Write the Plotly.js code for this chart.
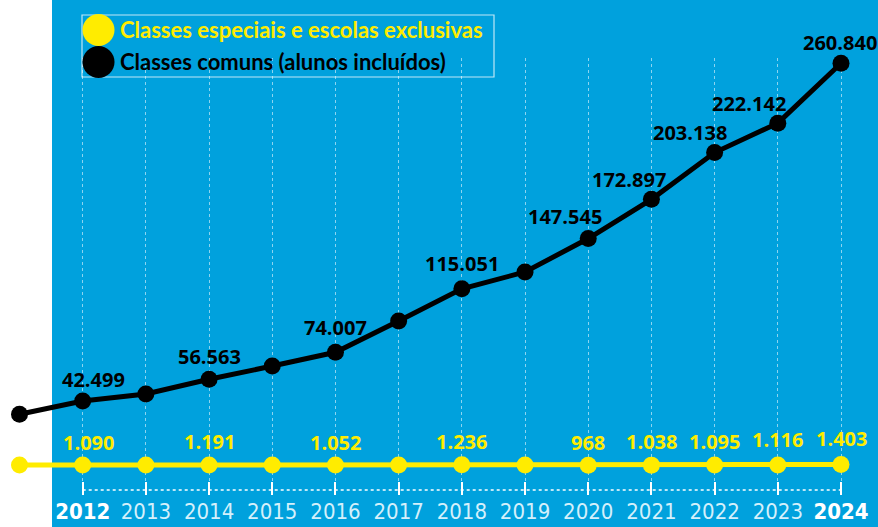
<!DOCTYPE html>
<html>
<head>
<meta charset="utf-8">
<script src="https://cdn.plot.ly/plotly-3.0.1.min.js"></script>
<style>
  html, body { margin: 0; padding: 0; background: #ffffff; }
  #chart { width: 878px; height: 527px; }
</style>
</head>
<body>
<div id="chart"></div>
<script>
// ---- data ----
const years = [2011, 2012, 2013, 2014, 2015, 2016, 2017, 2018, 2019, 2020, 2021, 2022, 2023, 2024];
const comuns = [33900, 42499, 47000, 56563, 65100, 74007, 94200, 115051, 125900, 147545, 172897, 203138, 222142, 260840];
const especiais = [1080, 1090, 1150, 1191, 1120, 1052, 1160, 1236, 1050, 968, 1038, 1095, 1116, 1403];
const labeledYears = [2012, 2014, 2016, 2018, 2020, 2021, 2022, 2023, 2024];
const tickYears = [2012, 2013, 2014, 2015, 2016, 2017, 2018, 2019, 2020, 2021, 2022, 2023, 2024];
const boldTickYears = [2012, 2024];
const seriesNames = ['Classes especiais e escolas exclusivas', 'Classes comuns (alunos incluídos)'];

// ---- styles ----
const BLUE = '#00a1dd';
const YELLOW = '#ffec00';
const BLACK = '#000000';
const NUM_FONT = '"Open Sans", "DejaVu Sans", sans-serif';
const LEG_FONT = 'Lato, "Open Sans", sans-serif';
const NARROW = '"Liberation Sans Narrow", "DejaVu Sans Condensed", "Roboto", sans-serif';

// label offsets (pixels) per labeled year
const blackShiftX = [11, 0, 0, 0, -23, -22, -25, -29, -1];
const blackShiftY = [22, 23, 25, 25, 22, 20, 20, 20, 21];
const yellowShiftX = [6, 0, 0, 0, 0, 0, 0, 0, 0];
const yellowShiftY = [23, 23, 23, 23, 23, 24, 24, 26, 26];

function fmt(v) {
  return String(v).replace(/\B(?=(\d{3})+(?!\d))/g, '.');
}

const traces = [
  {
    x: years, y: especiais, type: 'scatter', mode: 'lines+markers',
    line: { color: YELLOW, width: 5 },
    marker: { color: YELLOW, size: 17 },
    cliponaxis: false, hoverinfo: 'skip', showlegend: false
  },
  {
    x: years, y: comuns, type: 'scatter', mode: 'lines+markers',
    line: { color: BLACK, width: 5 },
    marker: { color: BLACK, size: 17 },
    cliponaxis: false, hoverinfo: 'skip', showlegend: false
  }
];

const annotations = [];
labeledYears.forEach((yr, i) => {
  const idx = years.indexOf(yr);
  annotations.push({
    x: yr, y: comuns[idx], xref: 'x', yref: 'y', showarrow: false,
    text: '<b>' + fmt(comuns[idx]) + '</b>',
    font: { family: NUM_FONT, size: 20, color: BLACK },
    xanchor: 'center', yanchor: 'middle',
    xshift: blackShiftX[i], yshift: blackShiftY[i]
  });
  annotations.push({
    x: yr, y: especiais[idx], xref: 'x', yref: 'y', showarrow: false,
    text: '<b>' + fmt(especiais[idx]) + '</b>',
    font: { family: NUM_FONT, size: 20, color: YELLOW },
    xanchor: 'center', yanchor: 'middle',
    xshift: yellowShiftX[i], yshift: yellowShiftY[i]
  });
});

// plot geometry helpers (pixels -> paper)
const H = 527, W = 878, T = 58, B = 32;
const PH = H - T - B;
const py = (px) => (H - B - px) / PH;
const pxx = (px) => px / W;

// legend texts
const legendColors = [YELLOW, BLACK];
const legendY = [30, 62];
seriesNames.forEach((name, i) => {
  annotations.push({
    x: pxx(118), y: py(legendY[i]), xref: 'paper', yref: 'paper', showarrow: false,
    text: '<b>' + name + '</b>', xanchor: 'left', yanchor: 'middle',
    font: { family: LEG_FONT, size: 22, color: legendColors[i] }
  });
});

const shapes = [
  // white strip on the left
  { type: 'rect', xref: 'paper', yref: 'paper', x0: 0, x1: pxx(52), y0: -1, y1: 2,
    fillcolor: '#ffffff', line: { width: 0 }, layer: 'below' },
  // dotted axis line
  { type: 'line', xref: 'x', yref: 'paper', x0: tickYears[0], x1: tickYears[tickYears.length - 1],
    y0: py(490), y1: py(490), line: { color: '#ffffff', width: 1.5, dash: 'dot' }, layer: 'above' },
  // legend box
  { type: 'rect', xref: 'paper', yref: 'paper', x0: pxx(82), x1: pxx(494), y0: py(77), y1: py(15),
    fillcolor: 'rgba(0,0,0,0)', line: { color: 'rgba(255,255,255,0.75)', width: 1.2 }, layer: 'above' }
];
legendColors.forEach((c, i) => {
  shapes.push({
    type: 'circle', xref: 'paper', yref: 'paper', xsizemode: 'pixel', ysizemode: 'pixel',
    xanchor: pxx(98.5), yanchor: py(legendY[i]), x0: -16, x1: 16, y0: -16, y1: 16,
    fillcolor: c, line: { width: 0 }, layer: 'above'
  });
});

const tickText = tickYears.map(y => boldTickYears.includes(y)
  ? '<b>' + y + '</b>'
  : '<span style="color:#d4f0fb">' + y + '</span>');

// axis ranges from pixel calibration
const step = (841 - 82.7) / 12;
const x0 = 2012 - 82.7 / step;
const x1 = 2012 + (W - 82.7) / step;
const yScale = (401 - 63.3) / (260840 - 42499);
const zeroPx = 401 + 42499 * yScale;
const yTop = (zeroPx - T) / yScale;
const yBot = -((H - B) - zeroPx) / yScale;

const layout = {
  width: W, height: H,
  margin: { l: 0, r: 0, t: T, b: B, pad: 0 },
  paper_bgcolor: BLUE,
  plot_bgcolor: 'rgba(0,0,0,0)',
  showlegend: false,
  xaxis: {
    range: [x0, x1], tickvals: tickYears, ticktext: tickText,
    showgrid: true, gridcolor: 'rgba(255,255,255,0.55)', gridwidth: 1, griddash: 'dot',
    zeroline: false, showline: false,
    ticks: 'inside', ticklen: 13, tickwidth: 2, tickcolor: '#ffffff',
    tickfont: { family: NARROW, size: 22, color: '#ffffff' },
    ticklabelstandoff: 1,
    fixedrange: true
  },
  yaxis: {
    range: [yBot, yTop], showgrid: false, zeroline: false, showline: false,
    showticklabels: false, ticks: '', fixedrange: true
  },
  annotations: annotations,
  shapes: shapes
};

Plotly.newPlot('chart', traces, layout, { displayModeBar: false, staticPlot: true });
</script>
</body>
</html>
